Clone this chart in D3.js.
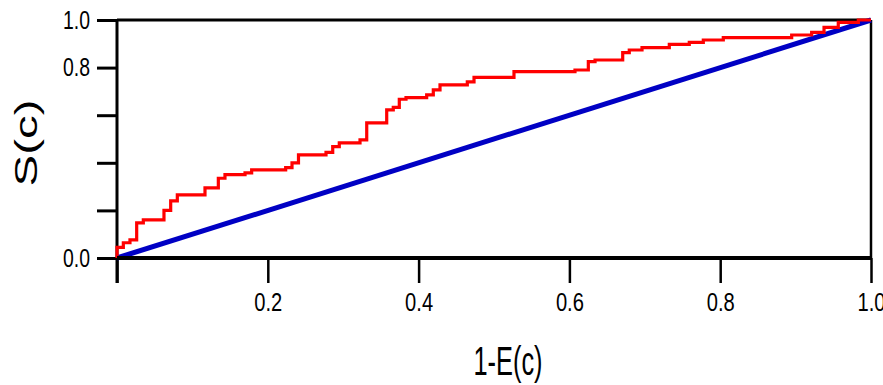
<!DOCTYPE html>
<html>
<head>
<meta charset="utf-8">
<script src="https://d3js.org/d3.v7.min.js"></script>
<style>
  body { margin: 0; background: #fff; }
  .tick text { font-family: "Liberation Sans Narrow", "Arial Narrow", "Liberation Sans", sans-serif; font-size: 25px; fill: #000; }
</style>
</head>
<body>
<script>
// step curve: position on x where S(c) jumps, and the new level
var stepX = [0, 0, 0.0084, 0.0172, 0.0261, 0.0349, 0.0623, 0.0712, 0.0800, 0.1167,
  0.1344, 0.1432, 0.1698, 0.1786, 0.2237, 0.2321, 0.2407, 0.2772, 0.2861, 0.2948,
  0.3223, 0.3312, 0.3577, 0.3664, 0.3744, 0.3833, 0.4107, 0.4195, 0.4284, 0.4646,
  0.4735, 0.5265, 0.6074, 0.6251, 0.6340, 0.6707, 0.6794, 0.6963, 0.7325, 0.7590,
  0.7776, 0.8041, 0.8948, 0.9213, 0.9377, 0.9566, 0.9832, 1.0];
var stepY = [0, 0.045, 0.064, 0.076, 0.148, 0.160, 0.200, 0.240, 0.265, 0.295,
  0.335, 0.350, 0.358, 0.370, 0.380, 0.400, 0.433, 0.444, 0.468, 0.484,
  0.496, 0.568, 0.622, 0.633, 0.667, 0.674, 0.685, 0.706, 0.727, 0.740,
  0.759, 0.783, 0.790, 0.825, 0.832, 0.863, 0.874, 0.884, 0.898, 0.906,
  0.916, 0.926, 0.937, 0.948, 0.969, 0.990, 1.0, 1.0];
// reference diagonal
var diagX = [0, 1];
var diagY = [0, 1];

var xTicks = [0, 0.2, 0.4, 0.6, 0.8, 1.0];
var yTicks = [0, 0.2, 0.4, 0.6, 0.8, 1.0];
var yLabelled = [0, 0.8, 1.0];

var margin = {top: 20, right: 12, bottom: 127, left: 117},
    width = 883 - margin.left - margin.right,
    height = 385 - margin.top - margin.bottom;

var x = d3.scaleLinear().domain([0, 1]).range([0, width]);
var y = d3.scaleLinear().domain([0, 1]).range([height, 0]);

var svg = d3.select("body").append("svg")
    .attr("width", 883)
    .attr("height", 385)
  .append("g")
    .attr("transform", "translate(" + margin.left + "," + margin.top + ")");

var fmt = d3.format(".1f");

// x axis
var gx = svg.append("g")
    .attr("transform", "translate(0," + height + ")")
    .call(d3.axisBottom(x).tickValues(xTicks).tickSize(25).tickPadding(10)
      .tickFormat(function(d) { return d === 0 ? "" : fmt(d); }));
gx.select(".domain").remove();
gx.selectAll(".tick line").attr("stroke", "#000").attr("stroke-width", 2.5);
gx.selectAll(".tick text").attr("textLength", 28).attr("lengthAdjust", "spacingAndGlyphs");

// y axis
var gy = svg.append("g")
    .call(d3.axisLeft(y).tickValues(yTicks).tickSize(20).tickPadding(7)
      .tickFormat(function(d) { return yLabelled.indexOf(d) >= 0 ? fmt(d) : ""; }));
gy.select(".domain").remove();
gy.selectAll(".tick line").attr("stroke", "#000").attr("stroke-width", 3);
gy.selectAll(".tick text").filter(function() { return this.textContent !== ""; })
    .attr("textLength", 27).attr("lengthAdjust", "spacingAndGlyphs");

// frame
svg.append("line").attr("x1", 0).attr("x2", width).attr("y1", 0).attr("y2", 0)
    .attr("stroke", "#000").attr("stroke-width", 3);
svg.append("line").attr("x1", 0).attr("x2", 0).attr("y1", 0).attr("y2", height + 25)
    .attr("stroke", "#000").attr("stroke-width", 3);
svg.append("line").attr("x1", width).attr("x2", width).attr("y1", 0).attr("y2", height)
    .attr("stroke", "#000").attr("stroke-width", 2.5);

// diagonal
svg.append("path")
    .datum(diagX.map(function(d, i) { return [d, diagY[i]]; }))
    .attr("fill", "none")
    .attr("stroke", "#0000c4")
    .attr("stroke-width", 5)
    .attr("d", d3.line().x(function(d) { return x(d[0]); }).y(function(d) { return y(d[1]); }));

// step curve
svg.append("path")
    .datum(stepX.map(function(d, i) { return [d, stepY[i]]; }))
    .attr("fill", "none")
    .attr("stroke", "#ff0000")
    .attr("stroke-width", 3.2)
    .attr("d", d3.line().curve(d3.curveStepAfter)
      .x(function(d) { return x(d[0]); }).y(function(d) { return y(d[1]); }));

// bottom line drawn over the curves
svg.append("line").attr("x1", 0).attr("x2", width).attr("y1", height).attr("y2", height)
    .attr("stroke", "#000").attr("stroke-width", 4);

// axis titles
svg.append("text")
    .attr("x", 356 - margin.left + 152)
    .attr("y", 375 - margin.top)
    .attr("text-anchor", "middle")
    .attr("font-family", "'Liberation Sans Narrow', 'Liberation Sans', sans-serif")
    .attr("font-size", 40)
    .attr("textLength", 69)
    .attr("lengthAdjust", "spacingAndGlyphs")
    .text("1-E(c)");

svg.append("text")
    .attr("transform", "translate(" + (37 - margin.left) + "," + (143 - margin.top) + ") rotate(-90)")
    .attr("text-anchor", "middle")
    .attr("font-family", "'Liberation Sans', Arial, sans-serif")
    .attr("font-size", 31)
    .attr("textLength", 87)
    .attr("lengthAdjust", "spacingAndGlyphs")
    .text("S(c)");
</script>
</body>
</html>
